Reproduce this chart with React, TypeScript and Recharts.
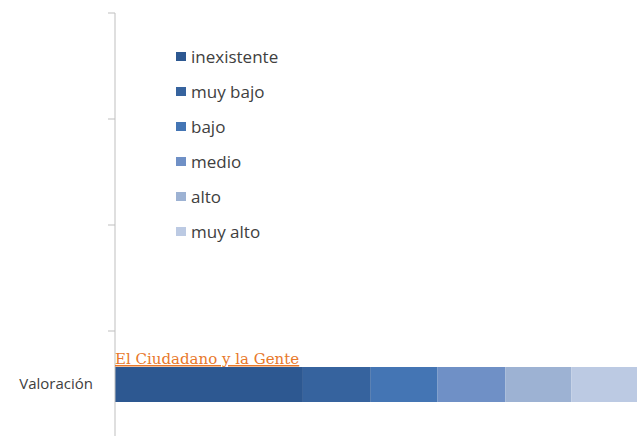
import { BarChart, Bar, XAxis, YAxis, Legend } from "recharts";

// categorías (solo la última tiene datos)
const categories = ["c1", "c2", "c3", "c4"];
const categoryLabels = ["", "", "", "Valoración"];
const seriesNames = ["inexistente", "muy bajo", "bajo", "medio", "alto", "muy alto"];
const seriesColors = ["#2D5891", "#36639E", "#4475B4", "#6F90C6", "#9DB2D3", "#BCCAE3"];
const inexistente = [null, null, null, 36];
const muyBajo = [null, null, null, 13];
const bajo = [null, null, null, 12.8];
const medio = [null, null, null, 13];
const alto = [null, null, null, 12.6];
const muyAlto = [null, null, null, 12.6];
const seriesTitle = "El Ciudadano y la Gente";

const seriesValues = [inexistente, muyBajo, bajo, medio, alto, muyAlto];
const data = categories.map((id, i) => {
  const row: any = { id, name: categoryLabels[i] };
  seriesNames.forEach((s, j) => {
    row[s] = seriesValues[j][i];
  });
  return row;
});

const FONT = "'Open Sans', sans-serif";
const TICK_SIZE = 7;
const TICK_MARGIN = 15;

// marcas entre categorías, como en Excel
function CategoryTick(props: any) {
  const { x, y, payload } = props;
  const half = payload.offset || 0;
  const ax = x + TICK_SIZE + TICK_MARGIN;
  const last = payload.index === categories.length - 1;
  return (
    <g>
      <line x1={ax - TICK_SIZE} x2={ax} y1={y - half} y2={y - half} stroke="#BFBFBF" />
      {last && (
        <line x1={ax - TICK_SIZE} x2={ax} y1={y + half} y2={y + half} stroke="#BFBFBF" />
      )}
      <text
        x={x}
        y={y}
        dy="0.355em"
        textAnchor="end"
        fill="#404040"
        fontFamily={FONT}
        fontSize={15}
      >
        {categoryLabels[payload.index]}
      </text>
    </g>
  );
}

function TitleLabel(props: any) {
  const { x, y, value } = props;
  if (value == null) return null;
  return (
    <text
      x={x}
      y={y - 3}
      fill="#E8782A"
      fontFamily="'DejaVu Serif', serif"
      fontSize={15}
      textDecoration="underline"
    >
      {seriesTitle}
    </text>
  );
}

function LegendBox() {
  return (
    <div style={{ fontFamily: FONT, fontSize: 17, color: "#404040" }}>
      {seriesNames.map((s, i) => (
        <div key={s} style={{ display: "flex", alignItems: "center", height: 35 }}>
          <span
            style={{
              display: "inline-block",
              width: 10,
              height: 9,
              background: seriesColors[i],
              marginRight: 5,
            }}
          />
          {s}
        </div>
      ))}
    </div>
  );
}

export default function App() {
  return (
    <div style={{ position: "absolute", left: 0, top: 0, background: "#fff" }}>
      <BarChart
        width={637}
        height={436}
        data={data}
        layout="vertical"
        margin={{ top: 13, right: 0, bottom: -1, left: 0 }}
      >
        <XAxis type="number" domain={[0, 100]} hide />
        <YAxis
          type="category"
          dataKey="id"
          width={115}
          stroke="#BFBFBF"
          tickLine={false}
          tickSize={TICK_SIZE}
          tickMargin={TICK_MARGIN}
          tick={<CategoryTick />}
        />
        <Legend
          layout="vertical"
          align="center"
          verticalAlign="middle"
          content={<LegendBox />}
          wrapperStyle={{ left: 176, top: 39, width: 150 }}
        />
        {seriesNames.map((s, i) => (
          <Bar
            key={s}
            dataKey={s}
            stackId="a"
            fill={seriesColors[i]}
            barSize={35}
            isAnimationActive={false}
            label={i === 0 ? <TitleLabel /> : undefined}
          />
        ))}
      </BarChart>
    </div>
  );
}
